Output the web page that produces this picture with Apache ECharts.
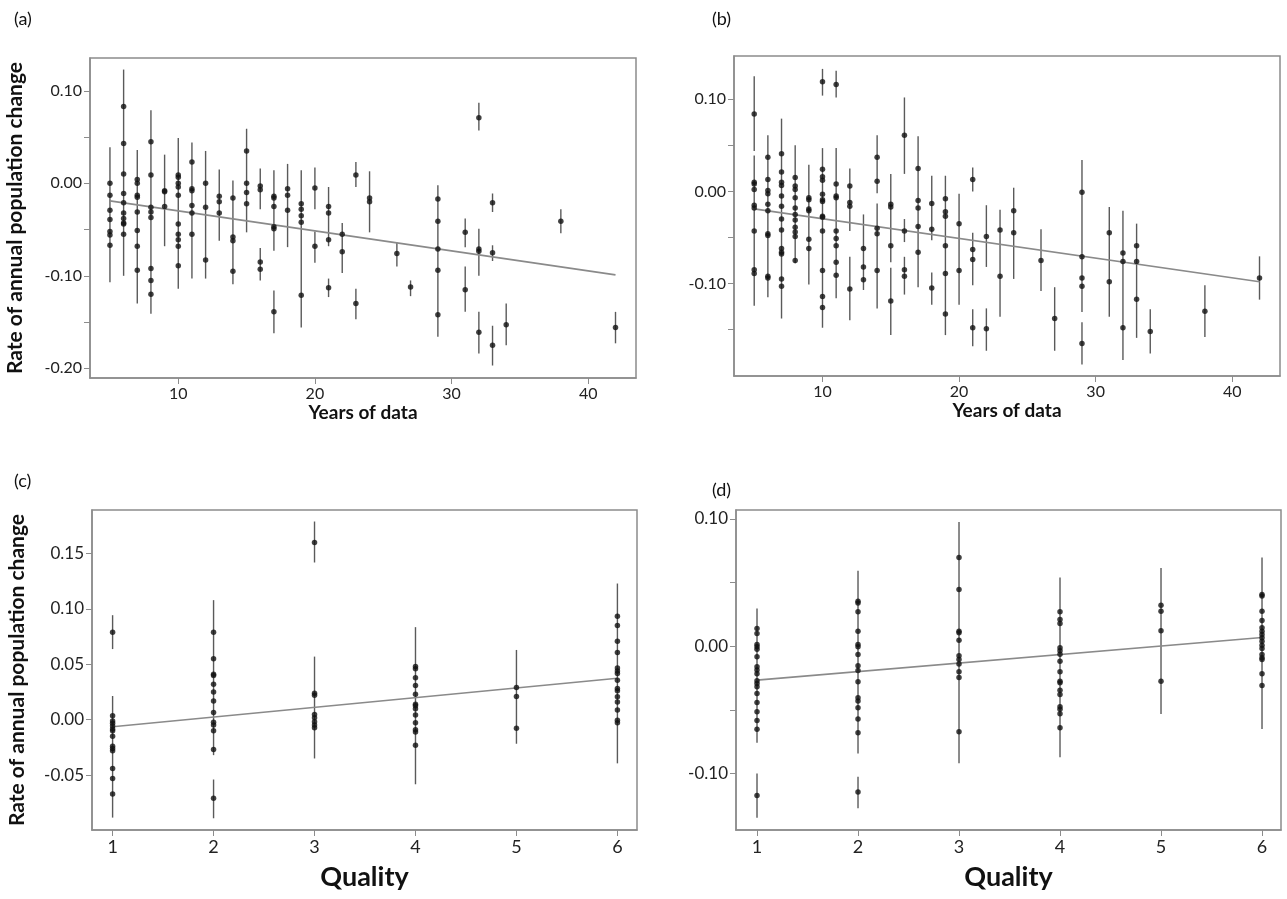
<!DOCTYPE html>
<html>
<head>
<meta charset="utf-8">
<script src="https://cdn.jsdelivr.net/npm/echarts@6/dist/echarts.min.js"></script>
<style>
  html, body { margin: 0; padding: 0; background: #fff; }
  #main { width: 1287px; height: 899px; }
</style>
</head>
<body>
<div id="main"></div>
<script>
// (a) years of data
var xsA = [5, 6, 7, 8, 9, 10, 11, 12, 13, 14, 15, 16, 17, 18, 19, 20, 21, 22, 23, 24, 26, 27, 29, 31, 32, 33, 34, 38, 42];
var valsA = [
  [0.000, -0.013, -0.029, -0.039, -0.052, -0.056, -0.067],
  [0.083, 0.043, 0.010, -0.011, -0.021, -0.032, -0.038, -0.043, -0.044, -0.055],
  [0.004, 0.000, -0.013, -0.015, -0.031, -0.051, -0.068, -0.094],
  [0.045, 0.009, -0.026, -0.031, -0.037, -0.092, -0.105, -0.120],
  [-0.008, -0.009, -0.025],
  [0.009, 0.0065, 0.000, -0.004, -0.013, -0.044, -0.055, -0.061, -0.068, -0.089],
  [0.023, -0.006, -0.008, -0.024, -0.032, -0.055],
  [0.000, -0.026, -0.083],
  [-0.014, -0.020, -0.032],
  [-0.016, -0.058, -0.062, -0.095],
  [0.035, 0.000, -0.010, -0.022],
  [-0.003, -0.007, -0.085, -0.093],
  [-0.014, -0.016, -0.025, -0.047, -0.049, -0.139],
  [-0.006, -0.013, -0.029],
  [-0.022, -0.028, -0.035, -0.042, -0.121],
  [-0.005, -0.068],
  [-0.025, -0.032, -0.061, -0.113],
  [-0.055, -0.074],
  [0.009, -0.130],
  [-0.016, -0.020],
  [-0.076],
  [-0.112],
  [-0.017, -0.041, -0.071, -0.094, -0.142],
  [-0.053, -0.115],
  [0.071, -0.071, -0.0735, -0.161],
  [-0.021, -0.075, -0.175],
  [-0.153],
  [-0.041],
  [-0.156]
];
// error bars: [x, low, high]
var barsA = [
  [5, -0.107, 0.039], [6, -0.100, 0.123], [7, -0.130, 0.036], [8, -0.141, 0.079],
  [9, -0.068, 0.031], [10, -0.114, 0.049], [11, -0.103, 0.044], [12, -0.103, 0.035],
  [13, -0.062, 0.015], [14, -0.109, 0.003], [15, -0.053, 0.059], [16, -0.028, 0.016],
  [16, -0.105, -0.070], [17, -0.073, 0.014], [17, -0.162, -0.116], [18, -0.069, 0.021],
  [19, -0.156, 0.014], [20, -0.028, 0.017], [20, -0.086, -0.052], [21, -0.068, -0.004],
  [21, -0.123, -0.103], [22, -0.097, -0.043], [23, -0.004, 0.023], [23, -0.147, -0.114],
  [24, -0.053, 0.013], [26, -0.090, -0.064], [27, -0.122, -0.105], [29, -0.166, -0.002],
  [31, -0.069, -0.038], [31, -0.139, -0.090], [32, 0.057, 0.087], [32, -0.100, -0.049],
  [32, -0.184, -0.139], [33, -0.031, -0.011], [33, -0.084, -0.067], [33, -0.197, -0.154],
  [34, -0.175, -0.130], [38, -0.054, -0.028], [42, -0.173, -0.139]
];
var fitA = [[5, -0.019], [42, -0.099]];

// (b) years of data
var xsB = [5, 6, 7, 8, 9, 10, 11, 12, 13, 14, 15, 16, 17, 18, 19, 20, 21, 22, 23, 24, 26, 27, 29, 31, 32, 33, 34, 38, 42];
var valsB = [
  [0.084, 0.010, 0.008, 0.002, -0.015, -0.018, -0.043, -0.085, -0.089],
  [0.037, 0.013, 0.001, -0.0025, -0.014, -0.021, -0.046, -0.048, -0.092, -0.094],
  [0.041, 0.021, 0.010, 0.0065, -0.005, -0.016, -0.030, -0.042, -0.062, -0.066, -0.068, -0.095, -0.103],
  [0.015, 0.006, 0.002, -0.007, -0.018, -0.025, -0.031, -0.039, -0.044, -0.049, -0.075],
  [-0.007, -0.009, -0.019, -0.021, -0.052, -0.062],
  [0.119, 0.024, 0.016, 0.012, -0.003, -0.009, -0.011, -0.027, -0.028, -0.043, -0.086, -0.114, -0.126],
  [0.116, 0.008, -0.005, -0.007, -0.043, -0.051, -0.059, -0.077, -0.091],
  [0.006, -0.012, -0.016, -0.106],
  [-0.062, -0.082, -0.096],
  [0.037, 0.011, -0.040, -0.046, -0.086],
  [-0.014, -0.017, -0.059, -0.119],
  [0.061, -0.043, -0.085, -0.092],
  [0.025, -0.010, -0.018, -0.038, -0.066],
  [-0.013, -0.041, -0.105],
  [-0.008, -0.022, -0.027, -0.059, -0.089, -0.133],
  [-0.035, -0.086],
  [0.013, -0.063, -0.074, -0.148],
  [-0.049, -0.149],
  [-0.042, -0.092],
  [-0.021, -0.045],
  [-0.075],
  [-0.138],
  [-0.001, -0.071, -0.094, -0.103, -0.165],
  [-0.045, -0.098],
  [-0.067, -0.076, -0.148],
  [-0.059, -0.076, -0.117],
  [-0.152],
  [-0.130],
  [-0.094]
];
var barsB = [
  [5, 0.044, 0.125], [5, -0.124, 0.039], [6, -0.115, 0.061], [7, -0.138, 0.079],
  [8, -0.078, 0.050], [9, -0.101, 0.029], [10, 0.104, 0.133], [10, -0.148, 0.047],
  [11, 0.102, 0.131], [11, -0.116, 0.047], [12, -0.043, 0.025], [12, -0.140, -0.071],
  [13, -0.107, -0.025], [14, -0.002, 0.061], [14, -0.127, -0.013], [15, -0.077, 0.019],
  [15, -0.156, -0.083], [16, 0.019, 0.102], [16, -0.055, -0.030], [16, -0.112, -0.071],
  [17, -0.104, 0.060], [18, -0.053, 0.017], [18, -0.123, -0.088], [19, -0.156, 0.017],
  [20, -0.123, -0.0025], [21, 0.000, 0.026], [21, -0.102, -0.045], [21, -0.168, -0.128],
  [22, -0.082, -0.015], [22, -0.173, -0.127], [23, -0.136, -0.020], [24, -0.095, 0.004],
  [26, -0.108, -0.041], [27, -0.173, -0.104], [29, -0.131, 0.034], [29, -0.188, -0.142],
  [31, -0.136, -0.017], [32, -0.183, -0.021], [33, -0.159, -0.035], [34, -0.176, -0.128],
  [38, -0.158, -0.102], [42, -0.1175, -0.0705]
];
var fitB = [[5, -0.019], [42, -0.098]];

// (c) quality
var xsC = [1, 2, 3, 4, 5, 6];
var valsC = [
  [0.079, 0.0036, -0.0012, -0.0033, -0.0057, -0.0084, -0.010, -0.015, -0.024, -0.026, -0.028, -0.044, -0.053, -0.067],
  [0.079, 0.055, 0.041, 0.040, 0.032, 0.025, 0.017, 0.0066, -0.0024, -0.0048, -0.010, -0.027, -0.071],
  [0.160, 0.024, 0.022, 0.0048, 0.0018, -0.0018, -0.0048, -0.0072],
  [0.048, 0.046, 0.038, 0.031, 0.023, 0.014, 0.0126, 0.010, 0.0042, -0.0027, -0.009, -0.011, -0.023],
  [0.029, 0.021, -0.0078],
  [0.0935, 0.085, 0.0709, 0.0607, 0.0466, 0.0441, 0.0418, 0.0357, 0.0282, 0.0261, 0.0207, 0.0159, 0.0087, -0.0004, -0.0028]
];
var barsC = [
  [1, 0.0638, 0.0944], [1, -0.0884, 0.0214], [2, -0.032, 0.108], [2, -0.089, -0.054],
  [3, 0.142, 0.179], [3, -0.035, 0.057], [4, -0.0583, 0.0836], [5, -0.0217, 0.063],
  [6, -0.0394, 0.123]
];
var fitC = [[1, -0.0063], [6, 0.0375]];

// (d) quality
var xsD = [1, 2, 3, 4, 5, 6];
var valsD = [
  [0.0139, 0.010, 0.0013, -0.0005, -0.0024, -0.0084, -0.0162, -0.0188, -0.0217, -0.0272, -0.0293, -0.0319, -0.0372, -0.0442, -0.0516, -0.0584, -0.0654, -0.1173],
  [0.0353, 0.034, 0.027, 0.0118, 0.0013, -0.0005, -0.0065, -0.0154, -0.0191, -0.028, -0.0406, -0.0432, -0.0484, -0.0573, -0.068, -0.1147],
  [0.0696, 0.0445, 0.0118, 0.0105, 0.0047, -0.0076, -0.0105, -0.0141, -0.0202, -0.0246, -0.0673],
  [0.027, 0.0209, 0.0178, -0.0013, -0.0037, -0.0063, -0.0118, -0.0202, -0.0275, -0.0288, -0.0346, -0.038, -0.0476, -0.0495, -0.0531, -0.0641],
  [0.0322, 0.0275, 0.012, -0.0275],
  [0.0406, 0.0395, 0.0275, 0.0202, 0.0144, 0.0118, 0.0092, 0.0065, 0.0039, 0.0008, -0.0018, -0.0065, -0.0092, -0.0105, -0.0217, -0.0309]
];
var barsD = [
  [1, -0.0759, 0.0296], [1, -0.1348, -0.100], [2, -0.0843, 0.0592], [2, -0.1275, -0.1026],
  [3, -0.0921, 0.0976], [4, -0.0874, 0.0539], [5, -0.0534, 0.0615], [6, -0.0652, 0.0696]
];
var fitD = [[1, -0.0267], [6, 0.0068]];

var yTitle = 'Rate of annual population change';
var font = 'Lato, "Open Sans", sans-serif';

function points(xs, vals) {
  var out = [];
  xs.forEach(function (x, i) {
    vals[i].forEach(function (v) { out.push([x, v]); });
  });
  return out;
}

function xAxisOf(idx, min, max, ticks, name, nameSize, labelSize, gap) {
  return {
    gridIndex: idx, type: 'value', min: min, max: max,
    splitLine: { show: false },
    axisLine: { show: true, onZero: false, lineStyle: { color: '#8c8c8c', width: 1.5 } },
    axisTick: { show: true, length: 6, lineStyle: { color: '#8c8c8c' }, customValues: ticks },
    axisLabel: { fontSize: labelSize, color: '#222', fontFamily: font, margin: 8, customValues: ticks },
    name: name, nameLocation: 'middle', nameGap: gap,
    nameTextStyle: { fontSize: nameSize, fontWeight: 'bold', color: '#111', fontFamily: font }
  };
}

function yAxisOf(idx, min, max, ticks, labels, labelSize, withName) {
  return {
    gridIndex: idx, type: 'value', min: min, max: max,
    splitLine: { show: false },
    axisLine: { show: true, onZero: false, lineStyle: { color: '#8c8c8c', width: 1.5 } },
    axisTick: { show: true, length: 6, lineStyle: { color: '#8c8c8c' }, customValues: ticks },
    axisLabel: {
      fontSize: labelSize, color: '#222', fontFamily: font, margin: 8, customValues: labels,
      formatter: function (v) { return (Math.abs(v) < 1e-9 ? 0 : v).toFixed(2); }
    },
    name: withName ? yTitle : '', nameLocation: 'middle', nameRotate: 90, nameGap: 64,
    nameTextStyle: { fontSize: 21, fontWeight: 'bold', color: '#111', fontFamily: font }
  };
}

function panelSeries(idx, bars, pts, fit) {
  return [
    {
      type: 'custom', xAxisIndex: idx, yAxisIndex: idx, data: bars, silent: true,
      renderItem: function (params, api) {
        var p1 = api.coord([api.value(0), api.value(1)]);
        var p2 = api.coord([api.value(0), api.value(2)]);
        return {
          type: 'line',
          shape: { x1: p1[0], y1: p1[1], x2: p2[0], y2: p2[1] },
          style: { stroke: '#5a5a5a', lineWidth: 1.4 }
        };
      },
      z: 2
    },
    {
      type: 'line', xAxisIndex: idx, yAxisIndex: idx, data: fit, symbol: 'none',
      lineStyle: { color: '#8a8a8a', width: 1.6 }, silent: true, z: 3
    },
    {
      type: 'scatter', xAxisIndex: idx, yAxisIndex: idx, data: pts,
      symbol: 'circle', symbolSize: 5.5, itemStyle: { color: '#111' }, silent: true, z: 4
    }
  ];
}

var chart = echarts.init(document.getElementById('main'), null, { renderer: 'canvas' });

var gridStyle = { show: true, borderColor: '#8c8c8c', borderWidth: 1.5, backgroundColor: '#fff' };

var option = {
  animation: false,
  backgroundColor: '#fff',
  textStyle: { fontFamily: font },
  grid: [
    Object.assign({ left: 90, top: 58, width: 546, height: 320 }, gridStyle),
    Object.assign({ left: 734, top: 56, width: 546, height: 320 }, gridStyle),
    Object.assign({ left: 92, top: 510, width: 545, height: 320 }, gridStyle),
    Object.assign({ left: 736, top: 510, width: 545, height: 320 }, gridStyle)
  ],
  xAxis: [
    xAxisOf(0, 3.54, 43.5, [10, 20, 30, 40], 'Years of data', 19, 16, 19),
    xAxisOf(1, 3.52, 43.5, [10, 20, 30, 40], 'Years of data', 19, 16, 19),
    xAxisOf(2, 0.796, 6.194, [1, 2, 3, 4, 5, 6], 'Quality', 27, 18, 34),
    xAxisOf(3, 0.792, 6.188, [1, 2, 3, 4, 5, 6], 'Quality', 27, 18, 34)
  ],
  yAxis: [
    yAxisOf(0, -0.2105, 0.1355, [-0.2, -0.15, -0.1, -0.05, 0, 0.05, 0.1], [-0.2, -0.1, 0, 0.1], 16, true),
    yAxisOf(1, -0.2004, 0.147, [-0.15, -0.1, -0.05, 0, 0.05, 0.1], [-0.1, 0, 0.1], 16, false),
    yAxisOf(2, -0.0996, 0.1894, [-0.05, 0, 0.05, 0.1, 0.15], [-0.05, 0, 0.05, 0.1, 0.15], 17, true),
    yAxisOf(3, -0.1445, 0.107, [-0.1, -0.05, 0, 0.05, 0.1], [-0.1, 0, 0.1], 17, false)
  ],
  graphic: [
    { type: 'text', left: 14, top: 10, style: { text: '(a)', fontSize: 18, fontFamily: font, fill: '#111' } },
    { type: 'text', left: 712, top: 10, style: { text: '(b)', fontSize: 18, fontFamily: font, fill: '#111' } },
    { type: 'text', left: 14, top: 472, style: { text: '(c)', fontSize: 18, fontFamily: font, fill: '#111' } },
    { type: 'text', left: 712, top: 481, style: { text: '(d)', fontSize: 18, fontFamily: font, fill: '#111' } }
  ],
  series: [].concat(
    panelSeries(0, barsA, points(xsA, valsA), fitA),
    panelSeries(1, barsB, points(xsB, valsB), fitB),
    panelSeries(2, barsC, points(xsC, valsC), fitC),
    panelSeries(3, barsD, points(xsD, valsD), fitD)
  )
};

chart.setOption(option);
</script>
</body>
</html>
